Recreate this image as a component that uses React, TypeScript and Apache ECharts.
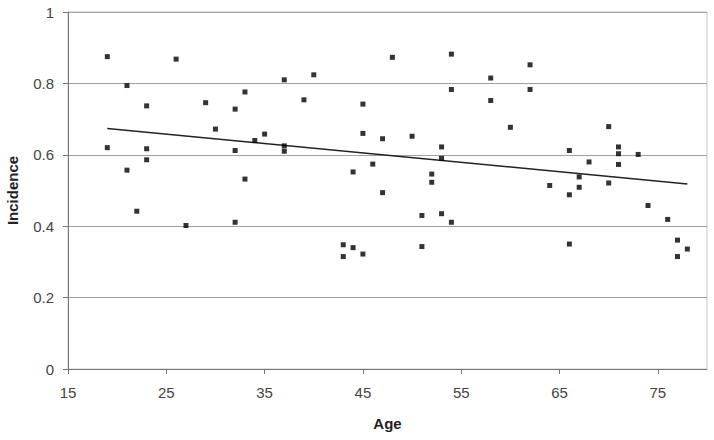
import React, { useEffect, useRef } from "react";
import * as echarts from "echarts";

const ages = [
  19, 19, 21, 21, 22, 23, 23, 23, 26, 27, 29, 30, 32, 32, 32, 33, 33, 34, 35,
  37, 37, 37, 39, 40, 43, 43, 44, 44, 45, 45, 45, 46, 47, 47, 48, 50, 51, 51,
  52, 52, 53, 53, 53, 54, 54, 54, 58, 58, 60, 62, 62, 64, 66, 66, 66, 67, 67,
  68, 70, 70, 71, 71, 71, 73, 74, 76, 77, 77, 78,
];
const incidence = [
  0.875, 0.62, 0.794, 0.557, 0.442, 0.737, 0.617, 0.586, 0.868, 0.402, 0.746,
  0.672, 0.728, 0.612, 0.411, 0.776, 0.532, 0.64, 0.658, 0.81, 0.625, 0.61,
  0.754, 0.824, 0.348, 0.315, 0.552, 0.34, 0.742, 0.66, 0.322, 0.574, 0.645,
  0.494, 0.873, 0.652, 0.43, 0.343, 0.546, 0.523, 0.622, 0.59, 0.435, 0.882,
  0.783, 0.411, 0.815, 0.752, 0.677, 0.852, 0.783, 0.514, 0.612, 0.488, 0.35,
  0.538, 0.509, 0.58, 0.679, 0.521, 0.622, 0.603, 0.573, 0.601, 0.458, 0.419,
  0.361, 0.315, 0.336,
];
const trendAges = [19, 78];
const trendValues = [0.674, 0.518];

const FONT = "'Liberation Sans', Arial, sans-serif";

export default function App() {
  const ref = useRef<HTMLDivElement>(null);
  useEffect(() => {
    if (!ref.current) return;
    const chart = echarts.init(ref.current, null, { renderer: "svg" });
    chart.setOption({
      animation: false,
      backgroundColor: "#ffffff",
      grid: {
        left: 68,
        right: 7,
        top: 12,
        bottom: 71,
        show: true,
        borderColor: "#c8c8c8",
        borderWidth: 1,
        outerBoundsMode: "none",
      },
      xAxis: {
        type: "value",
        min: 15,
        max: 80,
        interval: 10,
        name: "Age",
        nameLocation: "middle",
        nameGap: 47,
        nameTextStyle: { fontFamily: FONT, fontSize: 15, fontWeight: "bold", color: "#222" },
        axisLine: { show: true, lineStyle: { color: "#777", width: 1 } },
        axisTick: { show: true, length: 5, lineStyle: { color: "#777" } },
        axisLabel: {
          showMaxLabel: false,
          margin: 16,
          fontFamily: FONT,
          fontSize: 15,
          color: "#444",
        },
        splitLine: { show: false },
      },
      yAxis: {
        type: "value",
        min: 0,
        max: 1,
        interval: 0.2,
        name: "Incidence",
        nameLocation: "middle",
        nameGap: 48,
        nameTextStyle: { fontFamily: FONT, fontSize: 15, fontWeight: "bold", color: "#222" },
        axisLine: { show: true, lineStyle: { color: "#777", width: 1 } },
        axisTick: { show: true, length: 5, lineStyle: { color: "#777" } },
        axisLabel: { margin: 14, fontFamily: FONT, fontSize: 15, color: "#444" },
        splitLine: { show: true, lineStyle: { color: "#a0a0a0", width: 1.2 } },
      },
      series: [
        {
          type: "scatter",
          symbol: "rect",
          symbolSize: 5,
          itemStyle: { color: "#000" },
          data: ages.map((a, i) => [a, incidence[i]]),
          z: 3,
        },
        {
          type: "line",
          symbol: "none",
          lineStyle: { color: "#222", width: 1.5 },
          data: trendAges.map((a, i) => [a, trendValues[i]]),
          z: 2,
        },
      ],
    });
    return () => chart.dispose();
  }, []);
  return (
    <div
      ref={ref}
      style={{ position: "fixed", left: 0, top: 0, width: 714, height: 440 }}
    />
  );
}
